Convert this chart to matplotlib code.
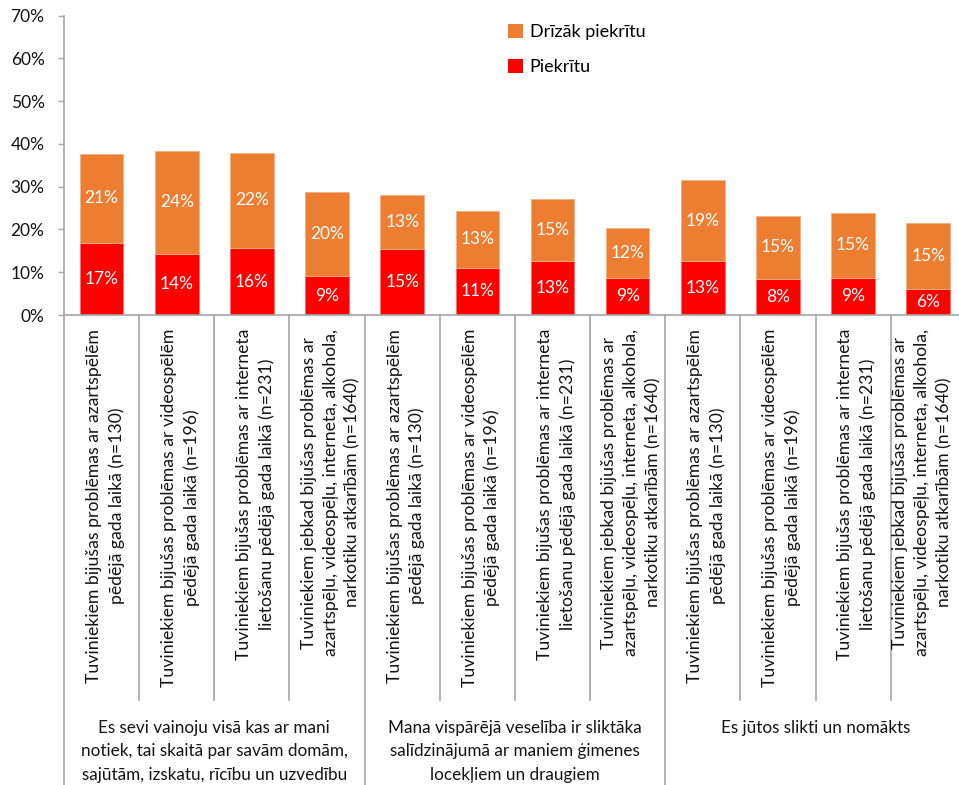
import matplotlib
matplotlib.use('Agg')
import matplotlib.pyplot as plt
from matplotlib.transforms import blended_transform_factory
from matplotlib.patches import Patch
import numpy as np

plt.rcParams['font.family'] = ['Lato', 'DejaVu Sans']

groups = [
    "Es sevi vainoju visā kas ar mani\nnotiek, tai skaitā par savām domām,\nsajūtām, izskatu, rīcību un uzvedību",
    "Mana vispārējā veselība ir sliktāka\nsalīdzinājumā ar maniem ģimenes\nlocekļiem un draugiem",
    "Es jūtos slikti un nomākts",
]
sub_categories = [
    "Tuviniekiem bijušas problēmas ar azartspēlēm\npēdējā gada laikā (n=130)",
    "Tuviniekiem bijušas problēmas ar videospēlēm\npēdējā gada laikā (n=196)",
    "Tuviniekiem bijušas problēmas ar interneta\nlietošanu pēdējā gada laikā (n=231)",
    "Tuviniekiem jebkad bijušas problēmas ar\nazartspēļu, videospēļu, interneta, alkohola,\nnarkotiku atkarībām (n=1640)",
]
categories = sub_categories * 3

piekritu = [16.9, 14.3, 15.6, 9.1, 15.4, 11.1, 12.6, 8.7, 12.6, 8.4, 8.7, 6.0]
drizak_piekritu = [20.8, 24.1, 22.4, 19.7, 12.7, 13.2, 14.6, 11.7, 18.9, 14.8, 15.2, 15.4]
series_names = ["Piekrītu", "Drīzāk piekrītu"]
yticks = [0, 10, 20, 30, 40, 50, 60, 70]

W, H = 959, 785
fig = plt.figure(figsize=(W / 100, H / 100), dpi=100)

x0_px, base_px, top_px = 64, 315, 15.7
slot = 75.15
n = len(categories)
ax = fig.add_axes([x0_px / W, 1 - base_px / H, n * slot / W, (base_px - top_px) / H])

RED = '#FF0000'
ORANGE = '#ED7D31'
GRAY = '#A6A6A6'
TXT = '#141414'

x = np.arange(n)
bw = 0.58
ax.bar(x, piekritu, bw, color=RED, edgecolor='#FF6B6B', linewidth=0.6, zorder=2)
ax.bar(x, drizak_piekritu, bw, bottom=piekritu, color=ORANGE, edgecolor='#F4B183', linewidth=0.6, zorder=2)

for i in range(n):
    r = piekritu[i]
    o = drizak_piekritu[i]
    ax.text(x[i], r / 2, f"{round(r):.0f}%", ha='center', va='center', color='white', fontsize=12.5, zorder=3)
    ax.text(x[i], r + o / 2, f"{round(o):.0f}%", ha='center', va='center', color='white', fontsize=12.5, zorder=3)

ax.set_xlim(-0.5, n - 0.5)
ax.set_ylim(0, 70)
ax.set_yticks(yticks)
ax.set_yticklabels([f"{v}%" for v in yticks], fontsize=12.5, color=TXT)
ax.tick_params(axis='y', direction='out', length=4, width=1, color=GRAY, pad=10)
ax.set_xticks([])
for s in ['top', 'right']:
    ax.spines[s].set_visible(False)
for s in ['left', 'bottom']:
    ax.spines[s].set_color(GRAY)
    ax.spines[s].set_linewidth(1.2)

trans = blended_transform_factory(ax.transData, fig.transFigure)
for k in range(n + 1):
    xs = k - 0.5
    bottom = 785 if k % 4 == 0 else 700
    ax.plot([xs, xs], [1 - base_px / H, 1 - bottom / H], transform=trans, color=GRAY,
            lw=1.2, clip_on=False, zorder=1)

for i, lab in enumerate(categories):
    dx = 0.05 if i < n - 1 else -0.08
    ax.text(x[i] + dx, 1 - 329 / H, lab, transform=trans, rotation=90, ha='center', va='top',
            multialignment='center', fontsize=12.7, linespacing=1.46, color=TXT)

for g, lab in enumerate(groups):
    ax.text(4 * g + 1.5, 1 - 720 / H, lab, transform=trans, ha='center', va='top',
            multialignment='center', fontsize=12.3, linespacing=1.57, color=TXT)

handles = [Patch(facecolor=ORANGE), Patch(facecolor=RED)]
fig.legend(handles, [series_names[1], series_names[0]], loc='upper left',
           bbox_to_anchor=(508 / W, 1 - 24 / H), frameon=False, fontsize=13,
           handlelength=0.85, handleheight=0.85, handletextpad=0.35, labelspacing=1.0,
           borderpad=0, borderaxespad=0)

fig.savefig('out.png', dpi=100)
